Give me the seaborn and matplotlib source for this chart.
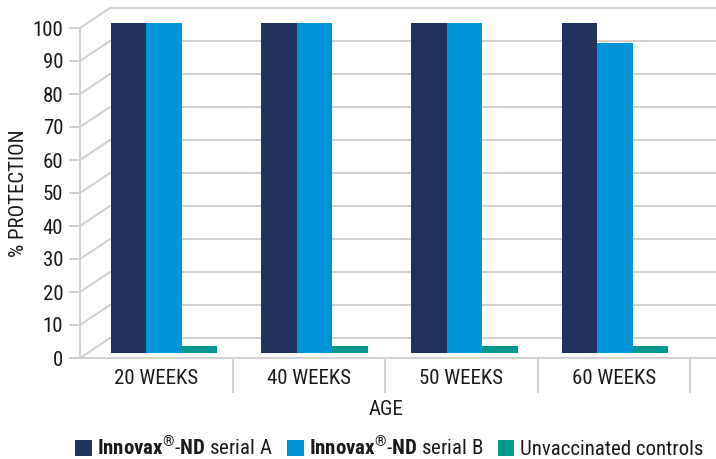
import matplotlib

matplotlib.use("Agg")
import matplotlib.pyplot as plt
import pandas as pd
import seaborn as sns
from matplotlib import font_manager

AGE_GROUPS = ["20 WEEKS", "40 WEEKS", "50 WEEKS", "60 WEEKS"]
SERIAL_A = [100, 100, 100, 100]
SERIAL_B = [100, 100, 100, 94]
CONTROLS = [2, 2, 2, 2]
SERIES_NAMES = [
    r"$\mathbf{Innovax}^{\mathbf{®}}\mathbf{\text{-}ND}$ serial A",
    r"$\mathbf{Innovax}^{\mathbf{®}}\mathbf{\text{-}ND}$ serial B",
    "Unvaccinated controls",
]
SERIES_COLORS = ["#21325f", "#0095d9", "#00998f"]
Y_TICKS = list(range(0, 101, 10))

W, H = 716, 459
GRID = "#d2d2d2"
INK = "#1a1a1a"
FS = 15


def _pick_font() -> str:
    installed = {f.name for f in font_manager.fontManager.ttflist}
    for name in ["Liberation Sans Narrow", "Roboto Condensed", "Liberation Sans"]:
        if name in installed:
            return name
    return "DejaVu Sans"


def _configure_plot_style(font: str) -> None:
    sns.set_theme(style="white")
    plt.rcParams["font.family"] = [font, "DejaVu Sans"]
    plt.rcParams["mathtext.fontset"] = "custom"
    plt.rcParams["mathtext.rm"] = font
    plt.rcParams["mathtext.bf"] = f"{font}:bold"
    plt.rcParams["text.color"] = INK


def _axes_px(fig, left, top, right, bottom):
    # pixel box (from top-left) -> figure fraction
    return fig.add_axes([left / W, (H - bottom) / H, (right - left) / W, (bottom - top) / H])


def main() -> None:
    font = _pick_font()
    _configure_plot_style(font)

    rows = []
    for i, age in enumerate(AGE_GROUPS):
        for name, values in zip(SERIES_NAMES, [SERIAL_A, SERIAL_B, CONTROLS]):
            rows.append({"age": age, "series": name, "protection": values[i]})
    plot_df = pd.DataFrame(rows)

    fig = plt.figure(figsize=(W / 100, H / 100), dpi=100)

    # back wall + left wall drawn in pixel space
    deco = fig.add_axes([0, 0, 1, 1], zorder=0)
    deco.set_xlim(0, W)
    deco.set_ylim(H, 0)
    deco.axis("off")
    for v in Y_TICKS:
        yb = 338 - 3.3 * v
        yf = 358 - 3.3 * v
        deco.plot([110, W], [yb, yb], color=GRID, lw=1.5, solid_capstyle="butt")
        deco.plot([80, 110], [yf, yb], color=GRID, lw=1.5)

    # bars
    ax = _axes_px(fig, 88.8, 23, 690.2, 353)
    ax.set_zorder(1)
    ax.patch.set_alpha(0)
    sns.barplot(
        data=plot_df,
        x="age",
        y="protection",
        hue="series",
        hue_order=SERIES_NAMES,
        palette=SERIES_COLORS,
        saturation=1,
        width=0.71,
        linewidth=0,
        edgecolor="none",
        ax=ax,
    )
    ax.set_ylim(0, 100)
    ax.set_xlim(-0.5, 3.5)
    ax.axis("off")

    handles, labels = ax.get_legend_handles_labels()
    ax.get_legend().remove()
    fig.legend(
        handles,
        labels,
        loc="center",
        bbox_to_anchor=(389 / W, (H - 447) / H),
        ncol=3,
        frameon=False,
        fontsize=FS,
        handlelength=0.8,
        handleheight=0.8,
        handletextpad=0.25,
        columnspacing=0.7,
        borderpad=0,
    )

    # front axis frame
    front = _axes_px(fig, 80, 28, 716, 358)
    front.set_zorder(2)
    front.patch.set_alpha(0)
    front.set_ylim(0, 100)
    front.set_xlim(-0.5, -0.5 + 636 / 152.5)
    front.set_yticks(Y_TICKS)
    front.set_yticklabels([str(v) for v in Y_TICKS])
    front.set_xticks(range(len(AGE_GROUPS)))
    front.set_xticklabels(AGE_GROUPS)
    front.set_xticks([0.5, 1.5, 2.5, 3.5], minor=True)
    for side in ["top", "right"]:
        front.spines[side].set_visible(False)
    for side in ["left", "bottom"]:
        front.spines[side].set_color(GRID)
        front.spines[side].set_linewidth(1.5)
    front.tick_params(axis="y", which="major", length=8, width=1.5, color=GRID,
                      pad=4, labelsize=FS, labelcolor=INK, left=True)
    front.tick_params(axis="x", which="major", length=0, pad=8, labelsize=FS, labelcolor=INK)
    front.tick_params(axis="x", which="minor", length=25, width=1.5, color=GRID, bottom=True)
    front.set_ylabel("% PROTECTION", fontsize=FS, color=INK)
    front.yaxis.set_label_coords((28 - 80) / 636, 0.5)
    front.set_xlabel("AGE", fontsize=FS, color=INK)
    front.xaxis.set_label_coords((386 - 80) / 636, (358 - 400) / 330)

    fig.savefig("out.png", dpi=100)
    plt.close(fig)


if __name__ == "__main__":
    main()
